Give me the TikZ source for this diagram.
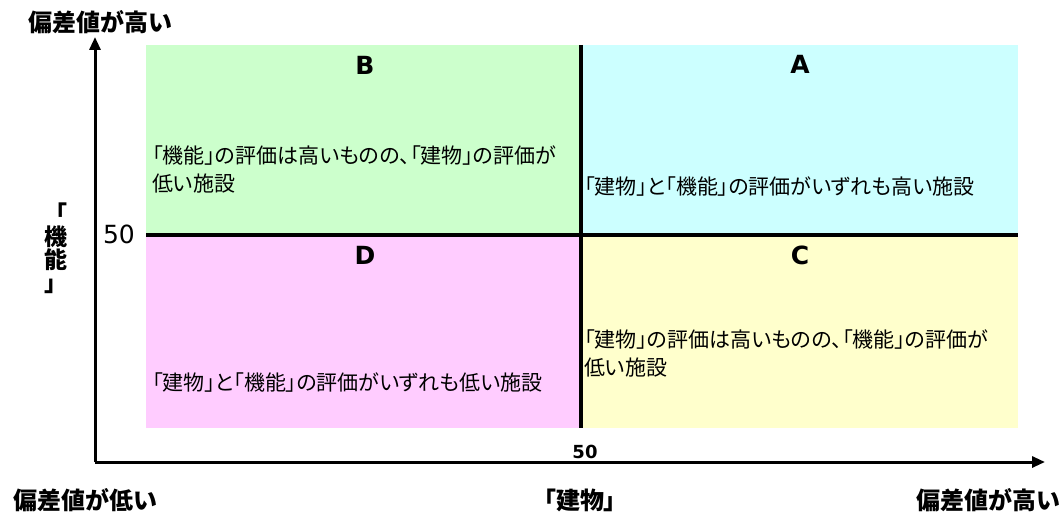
\documentclass[tikz,border=0pt]{standalone}
\usepackage{fontspec}
\usetikzlibrary{arrows.meta}
\newfontfamily\jp{Noto Sans CJK JP}[RawFeature=+palt]
\newfontfamily\jpfull{Noto Sans CJK JP}
\newfontfamily\latn{DejaVu Sans}
\definecolor{qgreen}{RGB}{204,255,204}
\definecolor{qcyan}{RGB}{204,255,255}
\definecolor{qpink}{RGB}{255,204,255}
\definecolor{qyellow}{RGB}{255,255,204}
\tikzset{
  quad/.style={draw=none, inner sep=0pt, anchor=north west, minimum height=#1},
  divider/.style={line width=4pt, black},
  axis/.style={line width=3pt, black, -{Triangle[length=13pt,width=11pt]}},
  letter/.style={font=\latn\bfseries\fontsize{25}{25}\selectfont, inner sep=0pt},
  desc/.style={font=\jp\fontsize{21}{28}\selectfont, inner sep=0pt, anchor=west, align=left},
  axlabel/.style={font=\jp\bfseries\fontsize{24}{28}\selectfont, inner sep=0pt},
}
\begin{document}
\begin{tikzpicture}[x=1pt,y=-1pt]
\useasboundingbox (0,0) rectangle (1063,516);
% quadrants
\node[quad=190pt, fill=qgreen, minimum width=435pt] (qB) at (146,45) {};
\node[quad=190pt, fill=qcyan, minimum width=437pt] (qA) at (581,45) {};
\node[quad=193pt, fill=qpink, minimum width=435pt] (qD) at (146,235) {};
\node[quad=193pt, fill=qyellow, minimum width=437pt] (qC) at (581,235) {};
% dividers
\draw[divider] (qB.north east) -- (qD.south east);
\draw[divider] (qB.south west) -- (qA.south east);
% letters
\node[letter] (lB) at (365,65) {B};
\node[letter] (lA) at (800,64) {A};
\node[letter] (lD) at (365,255) {D};
\node[letter] (lC) at (800,255) {C};
% descriptions
\node[desc] (tB) at (152,169) {「機能」の評価は高いものの、「建物」の評価が\\低い施設};
\node[desc] (tA) at (584,187) {「建物」と「機能」の評価がいずれも高い施設};
\node[desc] (tD) at (152,383) {「建物」と「機能」の評価がいずれも低い施設};
\node[desc] (tC) at (584,353) {「建物」の評価は高いものの、「機能」の評価が\\低い施設};
% axes
\coordinate (o) at (95,462);
\coordinate (ytip) at (95,37);
\coordinate (xtip) at (1045,462);
\draw[axis] (o) -- (ytip);
\draw[axis] (o) -- (xtip);
% axis values
\node[font=\latn\fontsize{25}{25}\selectfont, inner sep=0pt] (v50y) at (119,234) {50};
\node[font=\latn\bfseries\fontsize{18}{18}\selectfont, inner sep=0pt] (v50x) at (585,452) {50};
% axis labels
\node[axlabel] (ytop) at (100,22) {偏差値が高い};
\node[axlabel, align=center, font=\jpfull\bfseries\fontsize{23}{23}\selectfont] (yname) at (56,248) {「\\機\\能\\」};
\node[axlabel] (xlow) at (85,500) {偏差値が低い};
\node[axlabel] (xname) at (580,500) {「建物」};
\node[axlabel, anchor=east] (xhigh) at (1060,500) {偏差値が高い};
\end{tikzpicture}
\end{document}
